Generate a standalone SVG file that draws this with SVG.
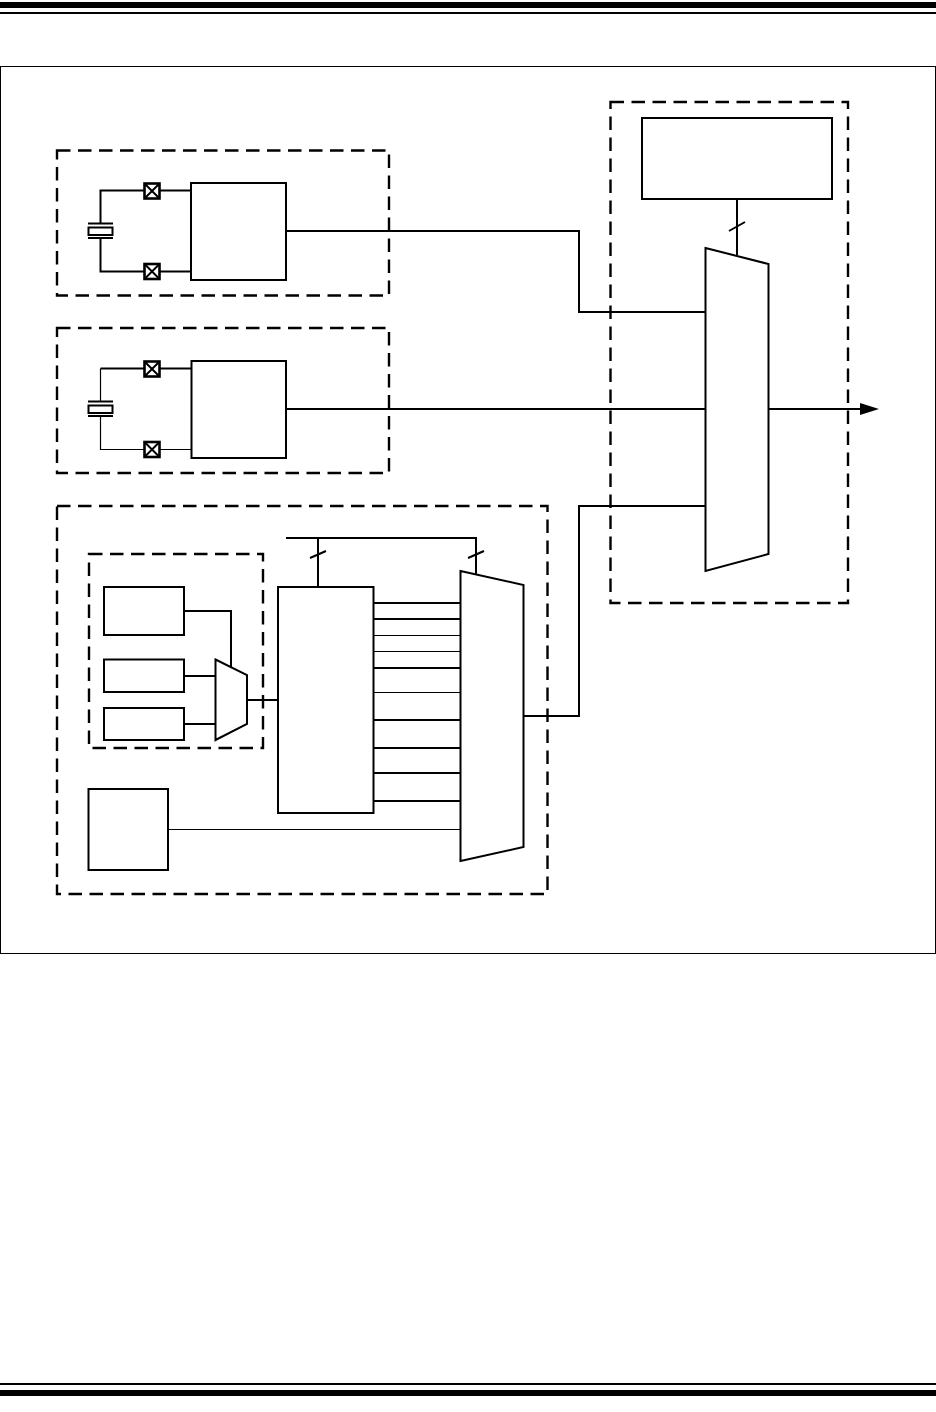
<svg xmlns="http://www.w3.org/2000/svg" width="936" height="1412" viewBox="0 0 936 1412">
<style>
.b{fill:#fff;stroke:#000;stroke-width:2}
.d{fill:none;stroke:#000;stroke-width:2.400;stroke-dasharray:13.500 7.500}
.w{fill:none;stroke:#000;stroke-width:2}
.t{fill:none;stroke:#000;stroke-width:1.200}
.x{fill:#fff;stroke:#000;stroke-width:2.600}
</style>
<defs>
<g id="xb"><rect x="144.500" y="0.500" width="15" height="15" class="x"/><path d="M144.500 .5l15 15M159.500 .5l-15 15" class="w"/></g>
<g id="xt"><path d="M88 0h25M88 14.500h25" class="w"/><rect x="88.500" y="4" width="24" height="7.500" class="b"/></g>
</defs>
<g id="page">
<rect x="0" y="2" width="936" height="6"/><rect x="0" y="12" width="936" height="2"/>
<rect x="0" y="1383" width="936" height="2"/><rect x="0" y="1390" width="936" height="6"/>
<rect x="0.500" y="66.500" width="935" height="887" fill="none" stroke="#000"/>
</g>
<g id="connectors">
<path class="w" d="M286 231H579V312H706M286 409H706M769 409H862M524 716H579V506H706M737 199V255M729 231L745 222"/>
<path d="M860 403L879 409L860 415Z"/>
<path class="w" d="M100.500 223V190.500H191M100.500 238V271.500H191"/>
<path class="t" d="M100.500 401V368.500"/><path class="w" d="M100.500 368.500H191"/>
<path class="t" d="M100.500 416V449.500H191"/>
<path class="w" d="M184 611H231V668M184 676H216M184 724H216M247 700H278M318 538V587M310 558L326 551"/>
<path class="w" d="M286 538H476V575M468 558L484 551"/>
<path class="w" d="M373 603H461M373 619H461M373 668H461M373 720H461M373 748H461M373 773H461M373 801H461"/>
<path class="t" d="M373 635.500H461M373 651.500H461M373 692.500H461M168 829.500H461"/>
</g>
<g id="region-top-osc"><rect x="57" y="150.500" width="332" height="145" class="d"/></g>
<g id="region-mid-osc"><rect x="57" y="328" width="332" height="145" class="d"/></g>
<g id="region-internal"><rect x="57" y="506" width="490.500" height="388" class="d"/></g>
<g id="region-pll"><rect x="89" y="554" width="174" height="194" class="d"/></g>
<g id="region-output"><rect x="610.500" y="102" width="237.500" height="501" class="d"/></g>
<g id="xtal1"><use href="#xt" y="223.500"/><use href="#xb" y="183"/><use href="#xb" y="263.500"/></g>
<g id="xtal2"><use href="#xt" y="401.500"/><use href="#xb" y="361"/><use href="#xb" y="441.500"/></g>
<g id="block-osc1"><rect x="191" y="183" width="95" height="97" class="b"/></g>
<g id="block-osc2"><rect x="191.500" y="361" width="94.500" height="97" class="b"/></g>
<g id="block-src1"><rect x="104" y="587" width="80" height="48" class="b"/></g>
<g id="block-src2"><rect x="104" y="659.500" width="80" height="32.500" class="b"/></g>
<g id="block-src3"><rect x="104" y="708" width="80" height="32" class="b"/></g>
<g id="mux-small"><path d="M215.500 659.500L247 675V724L215.500 740Z" class="b"/></g>
<g id="block-divider"><rect x="278" y="587" width="95.500" height="226" class="b"/></g>
<g id="block-low"><rect x="88.500" y="789" width="79.500" height="81" class="b"/></g>
<g id="mux-mid"><path d="M460.500 571L523.500 585V847L460.500 861Z" class="b"/></g>
<g id="mux-main"><path d="M705.500 248L768.500 264V554L705.500 571Z" class="b"/></g>
<g id="block-register"><rect x="642" y="118" width="190" height="81" class="b"/></g>
</svg>
